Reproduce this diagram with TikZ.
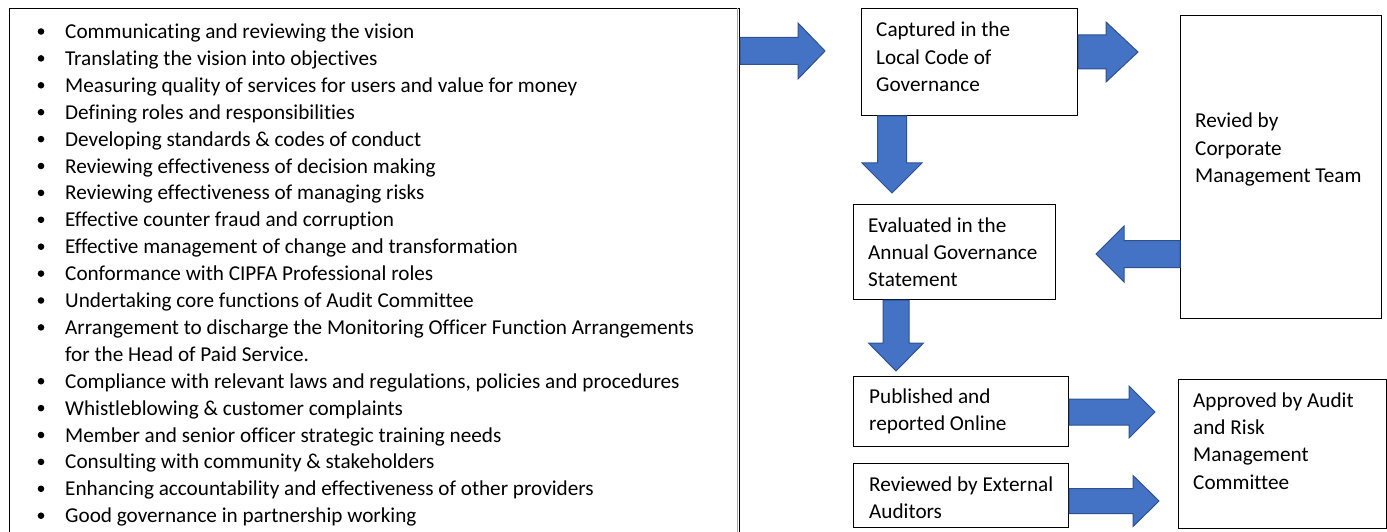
\documentclass[tikz,border=0pt]{standalone}
\usepackage{fontspec}
\setmainfont[Ligatures={NoCommon}]{Carlito}
\usetikzlibrary{calc}
\definecolor{blkfill}{HTML}{4472C4}
\definecolor{blkdraw}{HTML}{2F528F}
\newcommand\lines[1]{\begin{tabular}[t]{@{}l@{}}#1\end{tabular}}
% horizontal block arrow: start, head-base offset, tip offset, shaft half, head half
\newcommand\hblock[5]{\draw[blk] #1 -- ++(0,{-(#4)}) -- ++({#2},0) -- ++(0,{(#4)-(#5)}) -- ++({(#3)-(#2)},{#5}) -- ++({(#2)-(#3)},{#5}) -- ++(0,{(#4)-(#5)}) -- ++({-(#2)},0) -- cycle;}
% vertical block arrow
\newcommand\vblock[5]{\draw[blk] #1 -- ++({-(#4)},0) -- ++(0,{#2}) -- ++({(#4)-(#5)},0) -- ++({#5},{(#3)-(#2)}) -- ++({#5},{(#2)-(#3)}) -- ++({(#4)-(#5)},0) -- ++(0,{-(#2)}) -- cycle;}
\begin{document}
\begin{tikzpicture}[x=1pt,y=-1pt,
  box/.style={draw=black,line width=1pt,anchor=north west,inner sep=0pt},
  txt/.style={anchor=base west,inner sep=0pt,font=\fontsize{21.2}{27.4}\selectfont},
  lst/.style={anchor=base west,inner sep=0pt,font=\fontsize{21.2}{26.9}\selectfont},
  blk/.style={fill=blkfill,draw=blkdraw,line width=1pt,line join=miter}]
\useasboundingbox (0,0) rectangle (1387,532);
\fill[white] (0,0) rectangle (1387,532);
% left list box
\node[box,minimum width=730,minimum height=545] (L) at (9,8) {};
\draw[gray!70,line width=1pt] ($(L.north east)+(-2.5,0)$) -- ($(L.north east)+(-2.5,530)$);
\foreach \t [count=\i from 0] in {Communicating and reviewing the vision,
  Translating the vision into objectives,
  Measuring quality of services for users and value for money,
  Defining roles and responsibilities,
  Developing standards \& codes of conduct,
  Reviewing effectiveness of decision making,
  Reviewing effectiveness of managing risks,
  Effective counter fraud and corruption,
  Effective management of change and transformation,
  Conformance with CIPFA Professional roles,
  Undertaking core functions of Audit Committee,
  Arrangement to discharge the Monitoring Officer Function Arrangements,
  for the Head of Paid Service.,
  {Compliance with relevant laws and regulations, policies and procedures},
  Whistleblowing \& customer complaints,
  Member and senior officer strategic training needs,
  Consulting with community \& stakeholders,
  Enhancing accountability and effectiveness of other providers,
  Good governance in partnership working}
  \node[lst] (t\i) at (65,{38.5+26.9*\i}) {\t};
\foreach \i in {0,...,11,13,14,15,16,17,18}
  \fill (41,{31.5+26.9*\i}) circle (3.3);
% right boxes
\node[box,minimum width=216,minimum height=107] (A) at (861,8) {};
\node[txt] (At) at ($(A.north west)+(15,29)$) {\lines{Captured in the\\Local Code of\\Governance}};
\node[box,minimum width=201,minimum height=303] (M) at (1180,15) {};
\node[txt] (Mt) at ($(M.north west)+(15,113)$) {\lines{Revied by\\Corporate\\Management Team}};
\node[box,minimum width=202,minimum height=95] (B) at (853,204) {};
\node[txt] (Bt) at ($(B.north west)+(15,28)$) {\lines{Evaluated in the\\Annual Governance\\Statement}};
\node[box,minimum width=215,minimum height=70] (C) at (853,376) {};
\node[txt] (Ct) at ($(C.north west)+(16,27)$) {\lines{Published and\\reported Online}};
\node[box,minimum width=215,minimum height=64] (D) at (853,463) {};
\node[txt] (Dt) at ($(D.north west)+(16,28)$) {\lines{Reviewed by External\\Auditors}};
\node[box,minimum width=208,minimum height=149] (E) at (1178,379) {};
\node[txt] (Et) at ($(E.north west)+(15,28)$) {\lines{Approved by Audit\\and Risk\\Management\\Committee}};
% block arrows
\hblock{($(L.north east)+(0,43)$)}{58}{85}{13.5}{28}
\hblock{($(A.north east)+(0,44)$)}{28}{60}{17}{30}
\vblock{($(A.south west)+(31,0)$)}{47}{77}{14.5}{30}
\hblock{($(M.north west)+(0,239)$)}{-56}{-84}{13.5}{28}
\vblock{($(B.south west)+(43,0)$)}{43}{71}{13}{27.5}
\hblock{($(C.north east)+(0,36)$)}{60}{86}{13}{26}
\hblock{($(D.north east)+(0,38)$)}{64}{90}{12.5}{25.5}
\end{tikzpicture}
\end{document}
